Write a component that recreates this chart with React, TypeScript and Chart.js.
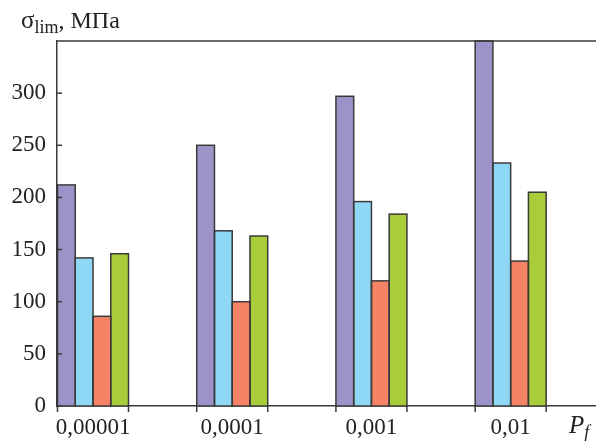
import React, { useEffect, useRef } from "react";
import { Chart, registerables } from "chart.js";

Chart.register(...registerables);

const categories = ["0,00001", "0,0001", "0,001", "0,01"];
const seriesA = [212, 250, 297, 350];
const seriesB = [142, 168, 196, 233];
const seriesC = [86, 100, 120, 139];
const seriesD = [146, 163, 184, 205];
const yTicks = [0, 50, 100, 150, 200, 250, 300];
const colors = ["#9c93c8", "#8fd8f5", "#f58466", "#a9cd3a"];

const FONT = "'Liberation Serif', 'Times New Roman', serif";
const AXIS = "#3a3a3a";

const outlines = {
  id: "outlines",
  afterDatasetsDraw(chart: any) {
    const ctx = chart.ctx;
    const a = chart.chartArea;
    ctx.save();
    ctx.beginPath();
    ctx.rect(a.left - 1, a.top - 1, a.right - a.left + 2, a.bottom - a.top + 2);
    ctx.clip();
    ctx.strokeStyle = AXIS;
    ctx.lineWidth = 1.5;
    chart.data.datasets.forEach((_: any, di: number) => {
      chart.getDatasetMeta(di).data.forEach((bar: any) => {
        const l = bar.x - bar.width / 2;
        const t = Math.min(bar.y, bar.base);
        const h = Math.abs(bar.base - bar.y);
        ctx.strokeRect(l, t, bar.width, h);
      });
    });
    ctx.restore();
  },
};

const decor = {
  id: "decor",
  afterDraw(chart: any) {
    const ctx = chart.ctx;
    const a = chart.chartArea;
    const ys = chart.scales.y;
    ctx.save();
    ctx.strokeStyle = AXIS;
    ctx.lineWidth = 1.5;
    ctx.beginPath();
    ctx.moveTo(a.left, a.top);
    ctx.lineTo(a.right, a.top);
    ctx.stroke();
    yTicks.forEach((v) => {
      const p = ys.getPixelForValue(v);
      ctx.beginPath();
      ctx.moveTo(a.left, p);
      ctx.lineTo(a.left + 5, p);
      ctx.stroke();
    });
    const first = chart.getDatasetMeta(0).data;
    const last = chart.getDatasetMeta(chart.data.datasets.length - 1).data;
    first.forEach((bar: any, i: number) => {
      const l = bar.x - bar.width / 2;
      const r = last[i].x + last[i].width / 2;
      [l, r].forEach((x) => {
        ctx.beginPath();
        ctx.moveTo(x, a.bottom);
        ctx.lineTo(x, a.bottom + 6);
        ctx.stroke();
      });
    });
    ctx.fillStyle = "#222";
    ctx.textBaseline = "alphabetic";
    ctx.textAlign = "left";
    ctx.font = `25px ${FONT}`;
    let x = 21;
    ctx.fillText("σ", x, 28);
    x += ctx.measureText("σ").width;
    ctx.font = `18px ${FONT}`;
    ctx.fillText("lim", x, 33);
    x += ctx.measureText("lim").width;
    ctx.font = `24px ${FONT}`;
    ctx.fillText(", МПа", x, 28);
    ctx.font = `italic 25px ${FONT}`;
    ctx.fillText("P", 569, 433);
    const pw = ctx.measureText("P").width;
    ctx.font = `italic 18px ${FONT}`;
    ctx.fillText("f", 569 + pw, 438);
    ctx.restore();
  },
};

export default function App() {
  const ref = useRef<HTMLCanvasElement>(null);
  useEffect(() => {
    if (!ref.current) return;
    const mk = (label: string, data: number[], c: string) => ({
      label,
      data: data.map((v, i) => ({ x: i, y: v })),
      backgroundColor: c,
      borderWidth: 0,
      barPercentage: 1,
      categoryPercentage: 0.51,
    });
    const chart = new Chart(ref.current, {
      type: "bar",
      data: {
        datasets: [
          mk("A", seriesA, colors[0]),
          mk("B", seriesB, colors[1]),
          mk("C", seriesC, colors[2]),
          mk("D", seriesD, colors[3]),
        ],
      },
      options: {
        animation: false,
        responsive: false,
        layout: { padding: { top: 41, right: 0, left: 0, bottom: 0 } },
        plugins: { legend: { display: false }, tooltip: { enabled: false } },
        scales: {
          x: {
            type: "linear",
            offset: false,
            min: -0.2586,
            max: 3.613,
            grid: { display: false, drawTicks: false, offset: false },
            border: { display: true, color: AXIS, width: 1.5 },
            afterBuildTicks: (s: any) => {
              s.ticks = categories.map((_, i) => ({ value: i }));
            },
            afterFit: (s: any) => {
              s.height = 35;
            },
            ticks: {
              autoSkip: false,
              maxRotation: 0,
              padding: 8,
              color: "#222",
              font: { family: FONT, size: 23 },
              callback: (v: any) => categories[Math.round(Number(v))] ?? "",
            },
          },
          y: {
            min: 0,
            max: 350,
            grid: { display: false, drawTicks: false },
            border: { display: true, color: AXIS, width: 1.5 },
            afterBuildTicks: (s: any) => {
              s.ticks = yTicks.map((v) => ({ value: v }));
            },
            afterFit: (s: any) => {
              s.width = 57;
            },
            ticks: {
              padding: 11,
              color: "#222",
              font: { family: FONT, size: 23 },
            },
          },
        },
      },
      plugins: [outlines, decor],
    } as any);
    return () => chart.destroy();
  }, []);
  return (
    <div style={{ position: "fixed", left: 0, top: 0, width: 596, height: 441, background: "#fff" }}>
      <canvas ref={ref} width={596} height={441} />
    </div>
  );
}
